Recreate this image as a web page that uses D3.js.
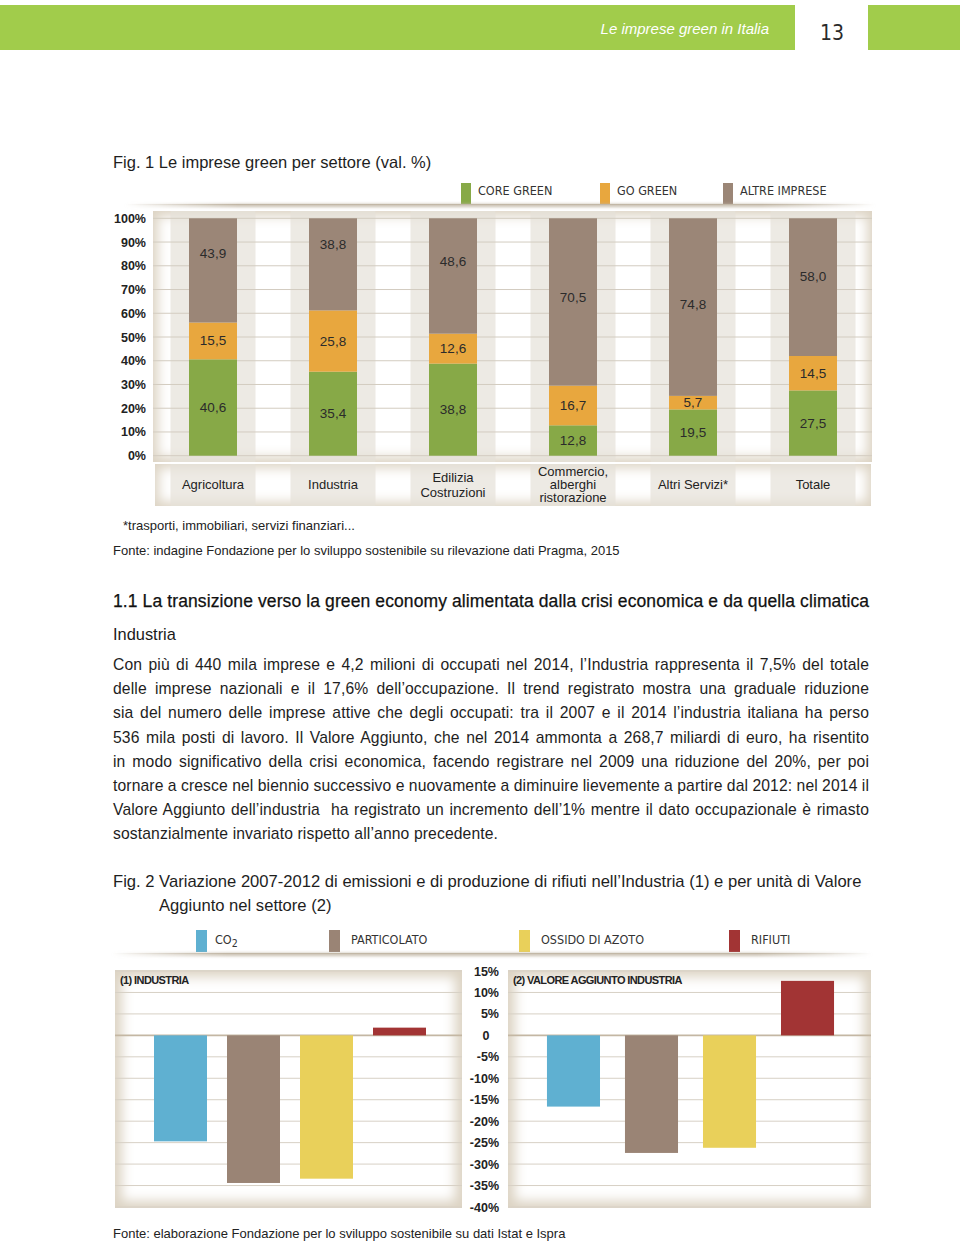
<!DOCTYPE html>
<html><head><meta charset="utf-8">
<script src="https://cdn.jsdelivr.net/npm/d3@7"></script>
<style>body{margin:0;background:#fff}svg{display:block}</style>
</head><body><svg id="c" width="960" height="1242"></svg>
<script>
// ---------- DATA ----------
const categories = ["Agricoltura","Industria","Edilizia\nCostruzioni","Commercio,\nalberghi\nristorazione","Altri Servizi*","Totale"];
const coreGreen = [40.6,35.4,38.8,12.8,19.5,27.5];
const goGreen = [15.5,25.8,12.6,16.7,5.7,14.5];
const altreImprese = [43.9,38.8,48.6,70.5,74.8,58.0];
const fig1Series = ["CORE GREEN","GO GREEN","ALTRE IMPRESE"];
const fig1Ticks = [0,10,20,30,40,50,60,70,80,90,100];
const fig2Series = ["CO2","PARTICOLATO","OSSIDO DI AZOTO","RIFIUTI"];
const industria = [-24.7,-34.4,-33.4,1.8];
const valoreAggiunto = [-16.6,-27.4,-26.2,12.7];
const fig2Ticks = [15,10,5,0,-5,-10,-15,-20,-25,-30,-35,-40];
const paragraph = [
 "Con più di 440 mila imprese e 4,2 milioni di occupati nel 2014, l’Industria rappresenta il 7,5% del totale",
 "delle imprese nazionali e il 17,6% dell’occupazione. Il trend registrato mostra una graduale riduzione",
 "sia del numero delle imprese attive che degli occupati: tra il 2007 e il 2014 l’industria italiana ha perso",
 "536 mila posti di lavoro. Il Valore Aggiunto, che nel 2014 ammonta a 268,7 miliardi di euro, ha risentito",
 "in modo significativo della crisi economica, facendo registrare nel 2009 una riduzione del 20%, per poi",
 "tornare a cresce nel biennio successivo e nuovamente a diminuire lievemente a partire dal 2012: nel 2014 il",
 "Valore Aggiunto dell’industria  ha registrato un incremento dell’1% mentre il dato occupazionale è rimasto",
 "sostanzialmente invariato rispetto all’anno precedente."
];

// ---------- STYLE ----------
const fig1Colors = ["#87a947","#e8a73e","#9b8677"];
const fig2Colors = ["#5fb0d1","#9a8475","#e9d05a","#a23434"];
const SANS = "'Liberation Sans', Arial, sans-serif";
const COND = "'DejaVu Sans Condensed', 'DejaVu Sans', sans-serif";
const fmt = v => d3.format(".1f")(v).replace(".", ",");

const svg = d3.select("#c");
const defs = svg.append("defs");
defs.append("filter").attr("id","blur").attr("x","-20%").attr("y","-20%").attr("width","140%").attr("height","140%")
  .append("feGaussianBlur").attr("stdDeviation",6);
defs.append("filter").attr("id","blur2").attr("x","-5%").attr("y","-200%").attr("width","110%").attr("height","500%")
  .append("feGaussianBlur").attr("stdDeviation",1.5);
const lg = defs.append("linearGradient").attr("id","hfade");
lg.append("stop").attr("offset","0%").attr("stop-color","#bfb4a2").attr("stop-opacity",0);
lg.append("stop").attr("offset","15%").attr("stop-color","#bfb4a2").attr("stop-opacity",0.9);
lg.append("stop").attr("offset","85%").attr("stop-color","#bfb4a2").attr("stop-opacity",0.9);
lg.append("stop").attr("offset","100%").attr("stop-color","#bfb4a2").attr("stop-opacity",0);

let clipId = 0;
function panel(x, y, w, h, inset) {
  const id = "clip" + (clipId++);
  defs.append("clipPath").attr("id", id).append("rect").attr("x",x).attr("y",y).attr("width",w).attr("height",h);
  const g = svg.append("g").attr("clip-path", `url(#${id})`);
  g.append("rect").attr("x",x).attr("y",y).attr("width",w).attr("height",h).attr("fill","#dcd3c3");
  g.append("rect").attr("x",x+inset).attr("y",y+inset).attr("width",w-2*inset).attr("height",h-2*inset)
    .attr("fill","#fff").attr("filter","url(#blur)");
  return g;
}
function shadowLine(x, y, w) {
  svg.append("rect").attr("x",x).attr("y",y).attr("width",w).attr("height",3).attr("fill","url(#hfade)").attr("filter","url(#blur2)");
  svg.append("rect").attr("x",x).attr("y",y).attr("width",w).attr("height",1.2).attr("fill","url(#hfade)");
}

// ---------- HEADER ----------
svg.append("rect").attr("x",0).attr("y",5).attr("width",795).attr("height",45).attr("fill","#a1cc4b");
svg.append("rect").attr("x",868).attr("y",5).attr("width",92).attr("height",45).attr("fill","#a1cc4b");
svg.append("text").attr("x",769).attr("y",34).attr("text-anchor","end").attr("fill","#fff")
  .attr("font-family",SANS).attr("font-style","italic").attr("font-size",15).text("Le imprese green in Italia");
svg.append("text").attr("x",832).attr("y",40).attr("text-anchor","middle").attr("fill","#2a2a2a")
  .attr("font-family",COND).attr("font-size",21).text("13");

// ---------- FIG 1 ----------
svg.append("text").attr("x",113).attr("y",168).attr("font-family",SANS).attr("font-size",16.5).attr("fill","#1e1e1e")
  .text("Fig. 1 Le imprese green per settore (val. %)");

// legend
const leg1X = [461, 600, 723];
fig1Series.forEach((s,i) => {
  svg.append("rect").attr("x",leg1X[i]).attr("y",183).attr("width",10).attr("height",21).attr("fill",fig1Colors[i]);
  svg.append("text").attr("x",leg1X[i]+17).attr("y",195).attr("font-family",COND).attr("font-size",12.5)
    .attr("fill","#333").text(s);
});
shadowLine(125, 204, 750);

const x1 = d3.scaleBand().domain(categories).range([153, 873]).paddingInner(0.6).paddingOuter(0.3);
const y1 = d3.scaleLinear().domain([0,100]).range([455.7, 218.3]);

// plot panel
const p1 = panel(153, 211, 719, 251, 5);
const stripeW = 85;
categories.forEach(c => {
  const cx = x1(c) + x1.bandwidth()/2;
  p1.append("rect").attr("x",cx-stripeW/2).attr("y",211).attr("width",stripeW).attr("height",251)
    .attr("fill","#e6e1d8").attr("opacity",0.7);
});
fig1Ticks.forEach(t => {
  p1.append("line").attr("x1",153).attr("x2",872).attr("y1",y1(t)).attr("y2",y1(t))
    .attr("stroke","#d3ccc0").attr("stroke-width",1);
});
// axis
const ax1 = svg.append("g").attr("transform","translate(146,0)")
  .call(d3.axisLeft(y1).tickValues(fig1Ticks).tickSize(0).tickPadding(0).tickFormat(d => d + "%"));
ax1.select(".domain").remove();
ax1.selectAll("text").attr("font-family",SANS).attr("font-weight","bold").attr("font-size",12.5).attr("fill","#222");

// stacked bars
const stackData = categories.map((c,i) => ({cat:c, core:coreGreen[i], go:goGreen[i], altre:altreImprese[i]}));
const keys = ["core","go","altre"];
const stacked = d3.stack().keys(keys)(stackData);
stacked.forEach((layer, li) => {
  svg.append("g").selectAll("rect").data(layer).join("rect")
    .attr("x", d => x1(d.data.cat)).attr("width", x1.bandwidth())
    .attr("y", d => y1(d[1])).attr("height", d => y1(d[0]) - y1(d[1]))
    .attr("fill", fig1Colors[li]);
  svg.append("g").selectAll("text").data(layer).join("text")
    .attr("x", d => x1(d.data.cat) + x1.bandwidth()/2)
    .attr("y", d => y1((d[0]+d[1])/2 + (li===2 ? 16 - 0.2*(d[1]-d[0]) : 0)) + 4.5)
    .attr("text-anchor","middle").attr("font-family",SANS).attr("font-size",13.5).attr("fill","#2b2b2b")
    .text(d => fmt(d[1]-d[0]));
});

// category label box
const p1b = panel(155, 464, 716, 42, 4);
categories.forEach(c => {
  const cx = x1(c) + x1.bandwidth()/2;
  p1b.append("rect").attr("x",cx-stripeW/2).attr("y",464).attr("width",stripeW).attr("height",42)
    .attr("fill","#e6e1d8").attr("opacity",0.7);
  const lines = c.split("\n");
  const lh = lines.length === 2 ? 15 : 13;
  const t = svg.append("text").attr("text-anchor","middle").attr("font-family",SANS).attr("font-size",13).attr("fill","#222");
  lines.forEach((l,k) => {
    t.append("tspan").attr("x",cx).attr("y", 489 + (k - (lines.length-1)/2)*lh).text(l);
  });
});

svg.append("text").attr("x",123).attr("y",530).attr("font-family",SANS).attr("font-size",13).attr("fill","#222")
  .text("*trasporti, immobiliari, servizi finanziari...");
svg.append("text").attr("x",113).attr("y",555).attr("font-family",SANS).attr("font-size",13).attr("fill","#222")
  .text("Fonte: indagine Fondazione per lo sviluppo sostenibile su rilevazione dati Pragma, 2015");

// ---------- TEXT SECTION ----------
svg.append("text").attr("x",113).attr("y",607).attr("font-family",SANS).attr("font-size",17.5).attr("fill","#111")
  .attr("stroke","#111").attr("stroke-width",0.25)
  .attr("textLength",756).attr("lengthAdjust","spacing")
  .text("1.1 La transizione verso la green economy alimentata dalla crisi economica e da quella climatica");
svg.append("text").attr("x",113).attr("y",640).attr("font-family",SANS).attr("font-size",16.4).attr("fill","#1a1a1a").text("Industria");
paragraph.forEach((line,i) => {
  const t = svg.append("text").attr("x",113).attr("y",670 + i*24.2).attr("font-family",SANS).attr("font-size",15.7)
    .attr("letter-spacing",0.12)
    .attr("fill","#1e1e1e").attr("xml:space","preserve").style("white-space","pre").text(line);
  if (i < paragraph.length - 1) {
    const len = t.node().getComputedTextLength();
    const spaces = (line.match(/ /g) || []).length;
    t.attr("word-spacing", (756 - len) / spaces);
  }
});

// ---------- FIG 2 ----------
svg.append("text").attr("x",113).attr("y",887).attr("font-family",SANS).attr("font-size",16.6).attr("fill","#1e1e1e")
  .text("Fig. 2 Variazione 2007-2012 di emissioni e di produzione di rifiuti nell’Industria (1) e per unità di Valore");
svg.append("text").attr("x",159).attr("y",911).attr("font-family",SANS).attr("font-size",16.6).attr("fill","#1e1e1e")
  .text("Aggiunto nel settore (2)");

const leg2X = [196, 329, 519, 729];
fig2Series.forEach((s,i) => {
  svg.append("rect").attr("x",leg2X[i]).attr("y",930).attr("width",11).attr("height",22).attr("fill",fig2Colors[i]);
  const t = svg.append("text").attr("x",leg2X[i]+(i===0?19:22)).attr("y",944).attr("font-family",COND).attr("font-size",12.5).attr("fill","#333");
  if (s === "CO2") {
    t.append("tspan").text("CO");
    t.append("tspan").attr("dy",3).attr("font-size",10.5).text("2");
  } else t.text(s);
});
shadowLine(112, 953, 760);

const y2 = d3.scaleLinear().domain([-40,15]).range([1207, 971]);
function fig2Panel(px, pw, title, values, range, padding) {
  const g = panel(px, 970, pw, 238, 7);
  fig2Ticks.forEach(t => {
    g.append("line").attr("x1",px).attr("x2",px+pw).attr("y1",y2(t)).attr("y2",y2(t))
      .attr("stroke", t===0 ? "#c4b7a3" : "#d7d0c5").attr("stroke-width", t===0 ? 1.8 : 1);
  });
  const xs = d3.scaleBand().domain(fig2Series).range(range).padding(padding);
  svg.append("g").selectAll("rect").data(values).join("rect")
    .attr("x", (d,i) => xs(fig2Series[i])).attr("width", xs.bandwidth())
    .attr("y", d => y2(Math.max(0,d))).attr("height", d => Math.abs(y2(d) - y2(0)))
    .attr("fill", (d,i) => fig2Colors[i]);
  svg.append("text").attr("x",px+5).attr("y",984).attr("font-family",SANS).attr("font-size",11)
    .attr("font-weight","bold").attr("letter-spacing",-0.6).attr("fill","#222").text(title);
}
fig2Panel(115, 347, "(1) INDUSTRIA", industria, [134, 446], 0.274);
fig2Panel(508, 363, "(2) VALORE AGGIUNTO INDUSTRIA", valoreAggiunto, [522, 859], 0.32);

const ax2 = svg.append("g").attr("transform","translate(499,0)")
  .call(d3.axisLeft(y2).tickValues(fig2Ticks).tickSize(0).tickPadding(0).tickFormat(d => d === 0 ? "0" : d + "%"));
ax2.select(".domain").remove();
ax2.selectAll("text").attr("font-family",SANS).attr("font-weight","bold").attr("font-size",12.5).attr("fill","#222");
ax2.selectAll(".tick").filter(d => d === 0).select("text").attr("text-anchor","middle").attr("x",-13);

svg.append("text").attr("x",113).attr("y",1238).attr("font-family",SANS).attr("font-size",13).attr("fill","#222")
  .text("Fonte: elaborazione Fondazione per lo sviluppo sostenibile su dati Istat e Ispra");
</script></body></html>
